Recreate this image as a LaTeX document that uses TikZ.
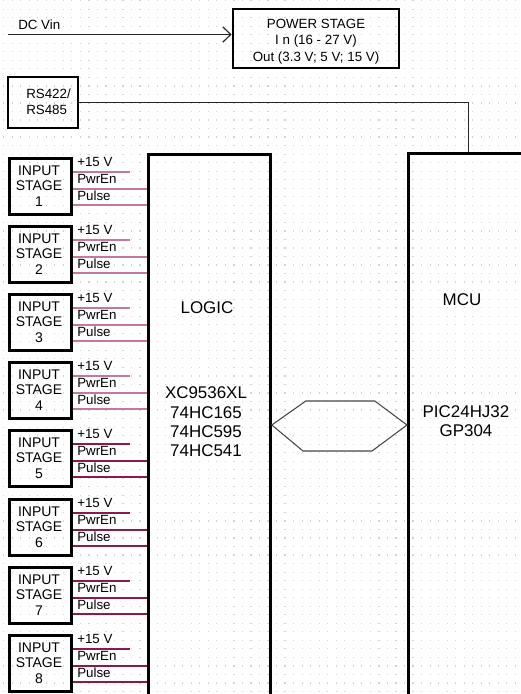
\documentclass[tikz,border=0pt]{standalone}
\usepackage{fontspec}
\setmainfont{Liberation Sans}
\usetikzlibrary{arrows.meta,calc}
\definecolor{dotc}{RGB}{212,212,212}
\definecolor{pinkA}{RGB}{195,120,160}
\definecolor{pinkB}{RGB}{140,25,75}
\definecolor{hexc}{RGB}{70,70,70}
\begin{document}
\begin{tikzpicture}[x=0.75pt,y=-0.75pt,
  box/.style={draw=black, line width=2.1pt, inner sep=0pt},
  small/.style={font=\fontsize{10}{12}\selectfont, text=black, inner sep=0pt},
  stg/.style={font=\fontsize{10.5}{11.8}\selectfont, align=center, inner sep=0pt},
  big/.style={font=\fontsize{12.7}{14.5}\selectfont, align=center, inner sep=0pt},
  wire/.style={line width=0.85pt, draw=black!85},
  sigA/.style={line width=1.5pt, draw=pinkA},
  sigB/.style={line width=1.5pt, draw=pinkB}]
\useasboundingbox (0,0) rectangle (521,694);
\clip (0,0) rectangle (521,694);
\foreach \i in {0,...,61}{\foreach \j in {0,...,81}{\fill[dotc] ({3+\i*8.53},{\j*8.53}) rectangle ++(1.2,1.2);}}
% power stage
\node[box, minimum width=124.5pt, minimum height=44.25pt] (power) at (316,38.5) {};
\node[font=\fontsize{10}{12.4}\selectfont, align=center, inner sep=0pt] (powertxt) at (316,41.5) {POWER STAGE\\I n (16 - 27 V)\\Out (3.3 V; 5 V; 15 V)};
\coordinate (dcin) at (8,34.5);
\draw[wire,-{Straight Barb[length=6pt,width=11.5pt]}] (dcin) -- (dcin -| power.west);
\node[small, anchor=west] (dclbl) at (18,25) {DC Vin};
% RS422
\node[box, minimum width=52.5pt, minimum height=38.25pt] (rs) at (43,102.5) {};
\node[small, align=left, anchor=west, font=\fontsize{10}{12.2}\selectfont] (rstxt) at (26,102) {RS422/\\RS485};
% logic and MCU
\node[box, minimum width=91.5pt, minimum height=450pt, anchor=north west] (logic) at (147,153) {};
\node[box, minimum width=150pt, minimum height=450pt, anchor=north west] (mcu) at (407,152) {};
\coordinate (mcutap) at (468.5,152);
\draw[wire] (rs.east) -| (mcutap);
\node[big] (logiclbl) at (207,308) {LOGIC};
\node[big] (chips) at (206,422) {XC9536XL\\74HC165\\74HC595\\74HC541};
\node[big] (mculbl) at (462,300) {MCU};
\node[big] (mcuchip) at (466,421) {PIC24HJ32\\GP304};
% hexagon bus
\coordinate (ylev) at (0,425);
\coordinate (hl) at (logic.east |- ylev);
\coordinate (hr) at (mcu.west |- ylev);
\draw[hexc, line width=0.8pt] (hl) -- ++(34,-24) -- ++(69,0) -- (hr) -- ++(-35,26) -- ++(-69,0) -- cycle;
% input stages
\foreach \k/\sty in {1/sigA,2/sigA,3/sigA,4/sigA,5/sigB,6/sigB,7/sigB,8/sigB}{
  \pgfmathsetmacro{\ttop}{round(156.7+(\k-1)*68.2)}
  \node[box, minimum width=46.5pt, minimum height=42pt, anchor=north west] (s\k) at (8,\ttop) {};
  \node[stg] (st\k) at (39,\ttop+29) {INPUT\\STAGE\\\k};
  \coordinate (v\k) at (130,\ttop+14.5);
  \coordinate (pe\k) at (0,\ttop+31.5);
  \coordinate (pu\k) at (0,\ttop+47.5);
  \draw[\sty] (s\k.east |- v\k) -- (v\k);
  \draw[\sty] (s\k.east |- pe\k) -- (logic.west |- pe\k);
  \draw[\sty] (s\k.east |- pu\k) -- (logic.west |- pu\k);
  \node[small, anchor=west] (l15\k) at (77,\ttop+5) {+15 V};
  \node[small, anchor=west] (lpe\k) at (77,\ttop+22) {PwrEn};
  \node[small, anchor=west] (lpu\k) at (77,\ttop+38.5) {Pulse};
}
\end{tikzpicture}
\end{document}
